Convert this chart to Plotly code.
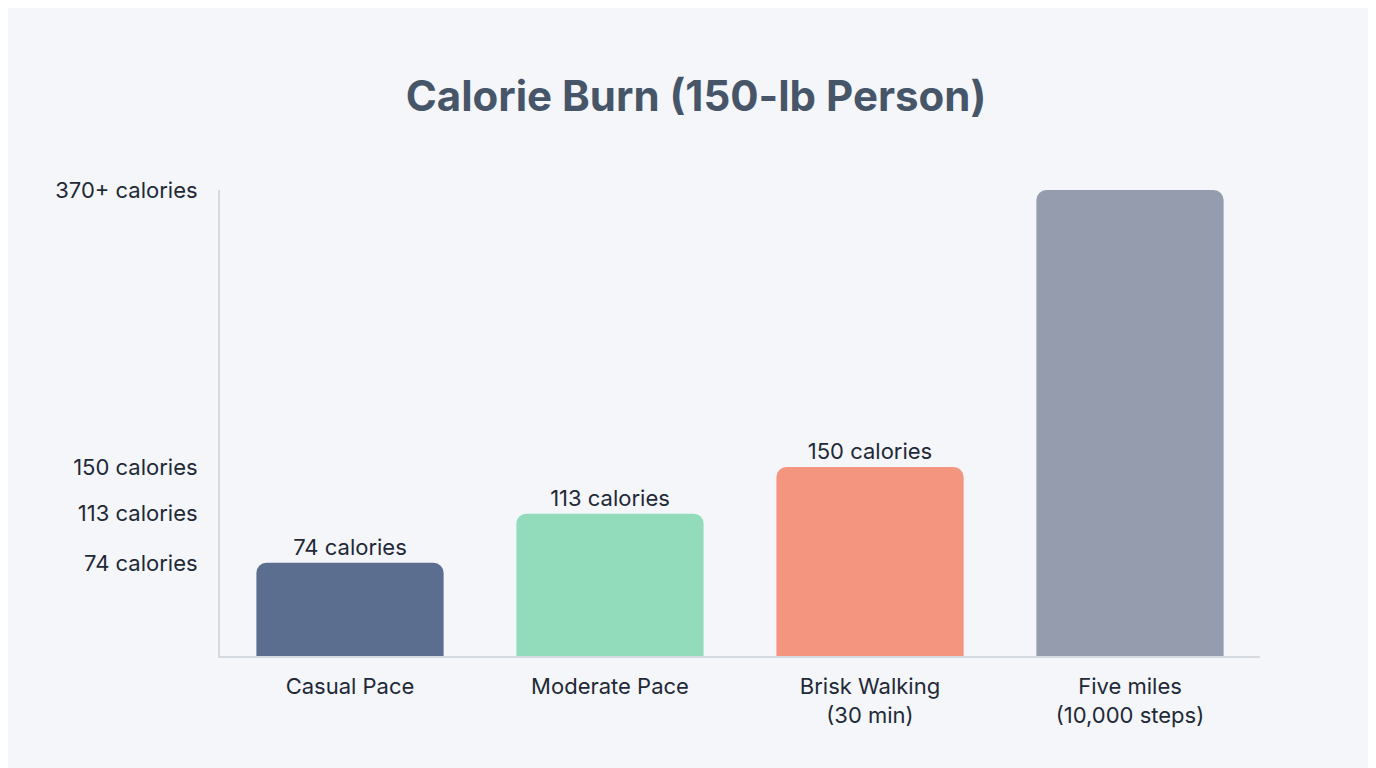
import plotly.graph_objects as go

categories = ["Casual Pace", "Moderate Pace", "Brisk Walking<br>(30 min)", "Five miles<br>(10,000 steps)"]
values = [74, 113, 150, 370]
bar_labels = ["74 calories", "113 calories", "150 calories", ""]
tick_vals = [74, 113, 150, 370]
tick_text = ["74 calories", "113 calories", "150 calories", "370+ calories"]
colors = ["#5b6e8f", "#93dcbb", "#f4957f", "#949cae"]

fig = go.Figure(go.Bar(
    x=categories, y=values, text=bar_labels, textposition="outside",
    textfont=dict(size=22, color="#1f2937"), marker=dict(color=colors, line=dict(width=0)),
    width=0.72, cliponaxis=False,
))
fig.update_layout(
    width=1376, height=768, barcornerradius=10,
    paper_bgcolor="#f4f6f9", plot_bgcolor="#f4f6f9",
    font=dict(family="Inter, Noto Sans, sans-serif", color="#1f2937"),
    title=dict(text="<b>Calorie Burn (150-lb Person)</b>", x=0.5, xanchor="center", y=0.885, yanchor="middle",
               font=dict(size=42, color="#475569")),
    margin=dict(l=212, r=124, t=182, b=120),
    showlegend=False,
    xaxis=dict(showline=True, linecolor="#d5dae1", linewidth=2, tickfont=dict(size=22), ticks="", showgrid=False,
               range=[-0.5, 3.5], ticklabelstandoff=10),
    yaxis=dict(range=[0, 370], tickvals=tick_vals, ticktext=tick_text, tickfont=dict(size=22),
               showgrid=False, zeroline=False, showline=True, linecolor="#d5dae1", linewidth=2, ticks="",
               ticklabelstandoff=16),
)
fig.write_html("out.html")
